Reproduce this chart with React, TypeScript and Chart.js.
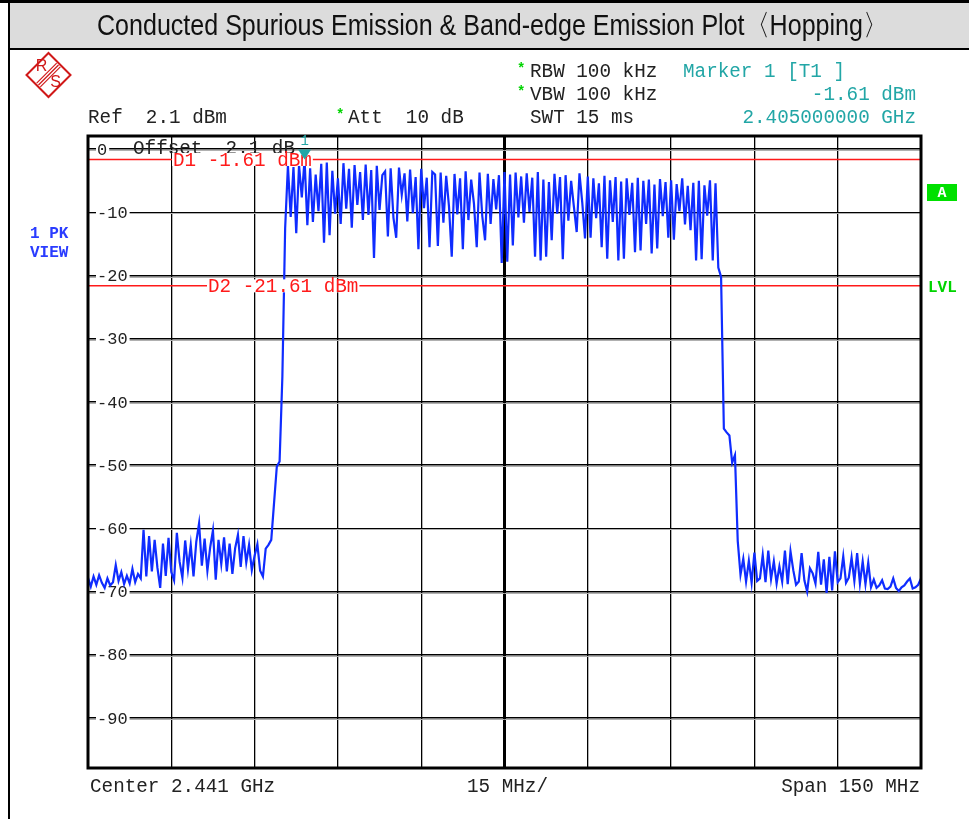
import React, { useEffect, useRef } from 'react';
import { Chart, registerables } from 'chart.js';

Chart.register(...registerables);

// ---------------- data ----------------
const TITLE = 'Conducted Spurious Emission & Band-edge Emission Plot\u3008Hopping\u3009';
const CENTER_MHZ = 2441;
const SWEEP_START_MHZ = 2366;
const SWEEP_STOP_MHZ = 2516;
const SWEEP_STEP_MHZ = 0.5;
const X_GRID_MHZ = [2366, 2381, 2396, 2411, 2426, 2441, 2456, 2471, 2486, 2501, 2516];
const Y_TICKS_DBM = [0, -10, -20, -30, -40, -50, -60, -70, -80, -90];
const Y_TICK_LABELS = ['0', '-10', '-20', '-30', '-40', '-50', '-60', '-70', '-80', '-90'];
const REF_LEVEL_DBM = 2.1;
const BOTTOM_DBM = -97.9;
const D1_DBM = -1.61;
const D2_DBM = -21.61;
const MARKER_MHZ = 2405;
const MARKER_DBM = -1.61;

const HEADER_LEFT = ['Ref  2.1 dBm', 'Att  10 dB'];
const HEADER_SETTINGS = ['RBW 100 kHz', 'VBW 100 kHz', 'SWT 15 ms'];
const HEADER_MARKER = ['Marker 1 [T1 ]', '-1.61 dBm', '2.405000000 GHz'];
const FOOTER = ['Center 2.441 GHz', '15 MHz/', 'Span 150 MHz'];
const D1_LABEL = 'D1 -1.61 dBm';
const D2_LABEL = 'D2 -21.61 dBm';
const OFFSET_LABEL = 'Offset  2.1 dB';

// trace level (dBm), one sweep point every 0.5 MHz from 2366 MHz to 2516 MHz
const LEVELS_LOW_SIDE = [
  -67.8, -69.2, -67.6, -68.9, -67.4, -68.6, -69.4, -67.9, -69.0, -68.5,
  -65.8, -68.3, -66.9, -68.8, -67.5, -68.7, -66.4, -68.5, -67.2, -67.9,
  -60.2, -67.6, -61.2, -66.8, -61.8, -66.2, -69.4, -62.4, -67.5, -61.5,
  -66.9, -68.2, -60.7, -65.3, -67.8, -61.9, -66.4, -62.6, -67.6, -62.1,
  -59.2, -65.9, -61.6, -66.7, -63.0, -60.3, -68.1, -61.8, -65.6, -61.4,
  -66.8, -62.4, -67.2, -63.1, -61.0, -66.1, -61.2, -65.4, -62.6, -66.6,
  -64.3, -62.5, -66.7, -67.6, -63.2, -62.6, -61.8, -56.0, -50.2, -49.4,
  -36.0, -12.5,
];
const LEVELS_IN_BAND = [
  -2.6, -10.7, -2.8, -13.3, -2.5, -7.6, -1.61, -12.0, -3.0, -11.5,
  -4.0, -9.8, -2.3, -14.8, -2.1, -13.6, -3.4, -10.2, -4.6, -11.8,
  -2.2, -9.4, -3.1, -12.4, -2.5, -8.8, -3.6, -11.2, -2.4, -10.4,
  -3.3, -17.2, -2.6, -9.6, -4.1, -3.5, -13.8, -3.0, -10.8, -14.0,
  -2.9, -7.2, -3.8, -11.4, -3.2, -10.1, -4.4, -15.8, -3.1, -9.3,
  -4.5, -15.5, -3.6, -4.0, -15.3, -3.7, -11.6, -4.2, -9.0, -17.0,
  -3.9, -10.3, -4.6, -15.8, -3.5, -11.2, -4.8, -8.6, -15.5, -3.7,
  -10.6, -14.4, -3.9, -11.8, -4.7, -9.5, -4.1, -18.0, -3.6, -17.8,
  -4.0, -15.2, -3.7, -10.8, -4.3, -11.6, -3.8, -9.9, -4.5, -17.0,
  -3.6, -17.6, -4.8, -17.0, -5.2, -14.4, -3.9, -10.2, -4.4, -17.4,
  -4.1, -11.3, -5.0, -9.1, -13.1, -3.8, -8.4, -14.1, -4.3, -14.0,
  -4.6, -10.9, -5.4, -15.5, -4.2, -17.3, -4.9, -11.5, -4.4, -17.6,
  -5.1, -17.3, -4.6, -10.4, -5.3, -16.3, -4.5, -16.0, -5.0, -11.8,
  -4.8, -16.5, -5.6, -15.7, -4.7, -10.6, -5.2, -14.0, -4.9, -14.3,
  -5.5, -9.8, -4.6, -11.9, -5.8, -12.8, -5.3, -17.6, -5.0, -17.4,
  -5.7, -10.5, -4.9, -17.6, -5.4, -18.7, -20.2,
];
const LEVELS_HIGH_SIDE = [
  -44.2, -44.8, -45.3, -49.6, -48.4, -62.0, -67.3,
  -64.8, -68.4, -65.1, -68.6, -63.8, -68.3, -67.9, -64.2, -68.5, -63.5,
  -68.0, -65.2, -68.7, -66.0, -68.4, -63.5, -68.8, -63.6, -66.6, -68.9,
  -68.4, -63.9, -68.2, -70.0, -66.3, -67.1, -68.7, -63.7, -68.9, -64.9,
  -70.2, -64.5, -69.8, -63.6, -68.5, -67.9, -64.4, -68.6, -67.8, -64.6,
  -68.3, -63.9, -68.7, -65.2, -68.8, -65.4, -69.3, -68.1, -69.4, -69.0,
  -68.2, -69.5, -69.6, -69.2, -67.9, -69.4, -69.9, -69.3, -69.0, -68.4,
  -67.9, -69.5, -69.3, -68.9, -67.9,
];

// ---------------- styling ----------------
const MONO = "'Liberation Mono', 'DejaVu Sans Mono', monospace";
const TRACE_COLOR = '#0f2cff';
const TEAL = '#22a6a6';
const RED = '#ff1a1a';
const GREEN = '#00d400';

function drawDecor(chart: any) {
  const ctx: CanvasRenderingContext2D = chart.ctx;
  ctx.save();
  // page background
  ctx.fillStyle = '#ffffff';
  ctx.fillRect(0, 0, chart.width, chart.height);

  // title bar
  ctx.fillStyle = '#dcdcdc';
  ctx.fillRect(9, 2, chart.width - 9, 46);
  ctx.strokeStyle = '#000';
  ctx.lineWidth = 3;
  ctx.beginPath();
  ctx.moveTo(0, 1.5);
  ctx.lineTo(chart.width, 1.5);
  ctx.stroke();
  ctx.lineWidth = 2;
  ctx.beginPath();
  ctx.moveTo(8, 49);
  ctx.lineTo(chart.width, 49);
  ctx.stroke();
  ctx.beginPath();
  ctx.moveTo(9, 0);
  ctx.lineTo(9, chart.height);
  ctx.stroke();

  // title text (condensed)
  ctx.font = "29px 'Liberation Sans', Arial, sans-serif";
  const tw = ctx.measureText(TITLE).width;
  const targetW = 791;
  ctx.save();
  ctx.translate(492.5, 27);
  ctx.scale(targetW / tw, 1);
  ctx.fillStyle = '#111';
  ctx.textAlign = 'center';
  ctx.textBaseline = 'middle';
  ctx.fillText(TITLE, 0, 0);
  ctx.restore();

  // R&S logo
  const cx = 48.5, cy = 75, r = 22;
  ctx.strokeStyle = '#d01818';
  ctx.lineWidth = 2;
  ctx.beginPath();
  ctx.moveTo(cx, cy - r);
  ctx.lineTo(cx + r, cy);
  ctx.lineTo(cx, cy + r);
  ctx.lineTo(cx - r, cy);
  ctx.closePath();
  ctx.stroke();
  ctx.lineWidth = 1.2;
  for (const o of [-2.6, 0, 2.6]) {
    const dx = o / Math.SQRT2;
    ctx.beginPath();
    ctx.moveTo(cx + r / 2 + dx - 1, cy - r / 2 + dx + 1);
    ctx.lineTo(cx - r / 2 + dx + 1, cy + r / 2 + dx - 1);
    ctx.stroke();
  }
  ctx.fillStyle = '#d01818';
  ctx.font = "16px 'Liberation Sans', Arial, sans-serif";
  ctx.textAlign = 'center';
  ctx.textBaseline = 'middle';
  ctx.fillText('R', cx - 7, cy - 8);
  ctx.fillText('S', cx + 7, cy + 8);

  // header
  ctx.font = `19.3px ${MONO}`;
  ctx.textBaseline = 'middle';
  ctx.textAlign = 'left';
  ctx.fillStyle = '#222';
  ctx.fillText(HEADER_LEFT[0], 88, 118);
  ctx.fillText(HEADER_LEFT[1], 348, 118);
  ctx.fillText(HEADER_SETTINGS[0], 530, 72);
  ctx.fillText(HEADER_SETTINGS[1], 530, 95);
  ctx.fillText(HEADER_SETTINGS[2], 530, 118);
  ctx.fillStyle = TEAL;
  ctx.fillText(HEADER_MARKER[0], 683, 72);
  ctx.textAlign = 'right';
  ctx.fillText(HEADER_MARKER[1], 916, 95);
  ctx.fillText(HEADER_MARKER[2], 916, 118);
  // green stars
  ctx.fillStyle = GREEN;
  ctx.textAlign = 'left';
  ctx.font = `bold 14px ${MONO}`;
  ctx.fillText('*', 517, 69);
  ctx.fillText('*', 517, 92);
  ctx.fillText('*', 336, 115);

  // footer
  ctx.font = `19.3px ${MONO}`;
  ctx.fillStyle = '#222';
  ctx.textAlign = 'left';
  ctx.fillText(FOOTER[0], 90, 787);
  ctx.fillText(FOOTER[1], 467, 787);
  ctx.textAlign = 'right';
  ctx.fillText(FOOTER[2], 920, 787);

  // side labels
  ctx.font = `bold 16px ${MONO}`;
  ctx.textAlign = 'left';
  ctx.fillStyle = '#2a3cff';
  ctx.fillText('1 PK', 30, 234);
  ctx.fillText('VIEW', 30, 253);
  ctx.fillStyle = '#00e000';
  ctx.fillRect(927, 184, 30, 17);
  ctx.fillStyle = '#ffffff';
  ctx.font = `bold 15px ${MONO}`;
  ctx.textAlign = 'center';
  ctx.fillText('A', 942, 193);
  ctx.fillStyle = GREEN;
  ctx.font = `bold 16px ${MONO}`;
  ctx.textAlign = 'left';
  ctx.fillText('LVL', 928, 288);
  ctx.restore();
}

const decorPlugin = {
  id: 'rsDecor',
  beforeDraw(chart: any) {
    drawDecor(chart);
  },
  beforeDatasetsDraw(chart: any) {
    const ctx: CanvasRenderingContext2D = chart.ctx;
    const area = chart.chartArea;
    const ys = chart.scales.y;
    ctx.save();
    // grey shade under horizontal grid lines
    ctx.strokeStyle = '#b0b0b0';
    ctx.lineWidth = 1;
    for (const v of Y_TICKS_DBM) {
      const py = Math.round(ys.getPixelForValue(v)) + 1.5;
      ctx.beginPath();
      ctx.moveTo(area.left, py);
      ctx.lineTo(area.right, py);
      ctx.stroke();
    }
    // y tick labels inside the plot
    ctx.font = `17px ${MONO}`;
    ctx.textBaseline = 'middle';
    ctx.textAlign = 'left';
    Y_TICKS_DBM.forEach((v, i) => {
      const py = ys.getPixelForValue(v);
      const label = Y_TICK_LABELS[i];
      const w = ctx.measureText(label).width;
      ctx.fillStyle = '#fff';
      ctx.fillRect(area.left + 8, py - 6, w + 3, 12);
      ctx.fillStyle = '#222';
      ctx.fillText(label, area.left + 9, py + 1);
    });
    // offset note
    ctx.font = `19.3px ${MONO}`;
    ctx.fillStyle = '#222';
    ctx.fillText(OFFSET_LABEL, 133, ys.getPixelForValue(0));
    // display lines
    ctx.strokeStyle = RED;
    ctx.lineWidth = 1.5;
    for (const d of [D1_DBM, D2_DBM]) {
      const py = ys.getPixelForValue(d);
      ctx.beginPath();
      ctx.moveTo(area.left, py);
      ctx.lineTo(area.right, py);
      ctx.stroke();
    }
    ctx.restore();
  },
  afterDatasetsDraw(chart: any) {
    const ctx: CanvasRenderingContext2D = chart.ctx;
    const area = chart.chartArea;
    const xs = chart.scales.x;
    const ys = chart.scales.y;
    ctx.save();
    // display line labels
    ctx.font = `19.3px ${MONO}`;
    ctx.textBaseline = 'middle';
    ctx.textAlign = 'left';
    const labels: [string, number, number][] = [
      [D1_LABEL, D1_DBM, 173],
      [D2_LABEL, D2_DBM, 208],
    ];
    for (const [txt, d, x] of labels) {
      const py = ys.getPixelForValue(d);
      const w = ctx.measureText(txt).width;
      ctx.fillStyle = '#fff';
      ctx.fillRect(x - 1, py - 6.5, w + 2, 13);
      ctx.fillStyle = RED;
      ctx.fillText(txt, x, py + 1);
    }
    // frame
    ctx.strokeStyle = '#000';
    ctx.lineWidth = 3;
    ctx.strokeRect(area.left, area.top, area.right - area.left, area.bottom - area.top);
    // marker
    const mx = xs.getPixelForValue(MARKER_MHZ);
    const my = ys.getPixelForValue(MARKER_DBM);
    ctx.fillStyle = TEAL;
    ctx.beginPath();
    ctx.moveTo(mx, my);
    ctx.lineTo(mx - 6.5, my - 10);
    ctx.lineTo(mx + 6.5, my - 10);
    ctx.closePath();
    ctx.fill();
    ctx.font = `14px ${MONO}`;
    ctx.textAlign = 'center';
    ctx.fillText('1', mx, my - 18);
    ctx.restore();
  },
};

export default function App() {
  const canvasRef = useRef<HTMLCanvasElement | null>(null);

  useEffect(() => {
    const canvas = canvasRef.current;
    if (!canvas) return;
    const levels = [...LEVELS_LOW_SIDE, ...LEVELS_IN_BAND, ...LEVELS_HIGH_SIDE];
    const points = levels.map((v, i) => ({ x: SWEEP_START_MHZ + i * SWEEP_STEP_MHZ, y: v }));
    const chart = new Chart(canvas, {
      type: 'line',
      data: {
        datasets: [
          {
            label: '1 PK VIEW',
            data: points,
            borderColor: TRACE_COLOR,
            borderWidth: 2.2,
            borderJoinStyle: 'miter',
            pointRadius: 0,
            tension: 0,
            fill: false,
          },
        ],
      },
      options: {
        responsive: false,
        maintainAspectRatio: false,
        animation: false,
        events: [],
        layout: { padding: { left: 88, right: 48, top: 136, bottom: 51 } },
        plugins: {
          legend: { display: false },
          tooltip: { enabled: false },
          title: { display: false },
        },
        scales: {
          x: {
            type: 'linear',
            min: SWEEP_START_MHZ,
            max: SWEEP_STOP_MHZ,
            afterBuildTicks: (s: any) => {
              s.ticks = X_GRID_MHZ.map((v) => ({ value: v }));
            },
            ticks: { display: false },
            border: { display: false },
            grid: {
              color: '#000',
              drawTicks: false,
              lineWidth: (c: any) => (c.tick && c.tick.value === CENTER_MHZ ? 3 : 1.3),
            },
          },
          y: {
            type: 'linear',
            min: BOTTOM_DBM,
            max: REF_LEVEL_DBM,
            afterBuildTicks: (s: any) => {
              s.ticks = Y_TICKS_DBM.map((v) => ({ value: v }));
            },
            ticks: { display: false },
            border: { display: false },
            grid: { color: '#000', drawTicks: false, lineWidth: 1.6 },
          },
        },
      },
      plugins: [decorPlugin],
    });
    return () => chart.destroy();
  }, []);

  return (
    <div style={{ position: 'absolute', left: 0, top: 0, width: 969, height: 819, background: '#fff' }}>
      <canvas ref={canvasRef} width={969} height={819} style={{ display: 'block' }} />
    </div>
  );
}
